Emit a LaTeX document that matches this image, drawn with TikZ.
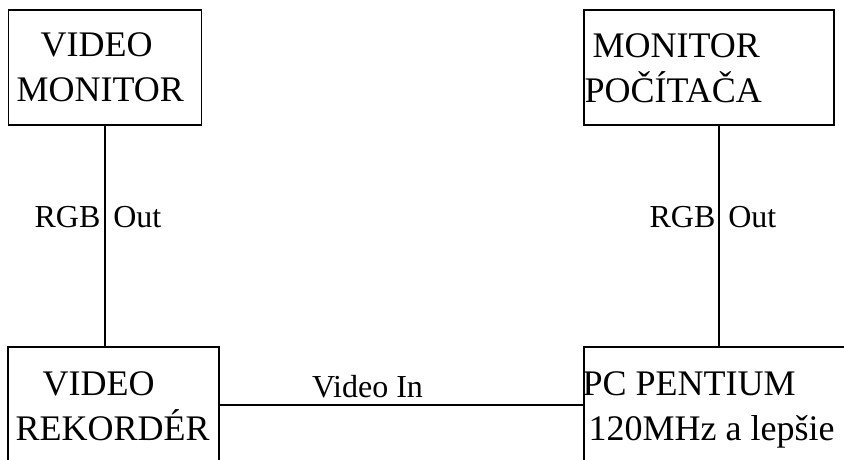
\documentclass[tikz,border=0pt]{standalone}
\usepackage{fontspec}
\setmainfont{Liberation Serif}
\begin{document}
\begin{tikzpicture}[x=1pt,y=-1pt,line width=1.3pt,
  box/.style={draw,rectangle,inner sep=0pt},
  big/.style={font=\fontsize{36}{45}\selectfont,align=left,inner sep=0pt,anchor=north west},
  small/.style={font=\fontsize{32}{38}\selectfont,inner sep=0pt}]
\useasboundingbox (0,0) rectangle (844,460);
\node[box,minimum width=193pt,minimum height=115pt] (vmon) at (105,67.5) {};
\node[box,minimum width=250pt,minimum height=115pt] (pcmon) at (709,67.5) {};
\node[box,minimum width=211pt,minimum height=116pt] (vrec) at (113.5,405) {};
\node[box,minimum width=276pt,minimum height=116pt] (pc) at (722,405) {};
\node[big] (vmontxt) at (16,32) {\hspace*{24pt}VIDEO\\MONITOR};
\node[big] (pcmontxt) at (584,33) {\hspace*{8pt}MONITOR\\POČÍTAČA};
\node[big] (vrectxt) at (15,371) {\hspace*{27pt}VIDEO\\REKORDÉR};
\node[big] (pctxt) at (582,371) {PC PENTIUM\\\hspace*{6pt}120MHz a lepšie};
\draw (vmon.south) -- (vmon.south |- vrec.north)
  node[small,midway,xshift=-7pt,anchor=base,yshift=9pt] {RGB\hspace{13pt}Out};
\draw ([xshift=10pt]pcmon.south) -- ([xshift=10pt]pcmon.south |- pc.north)
  node[small,midway,xshift=-6pt,anchor=base,yshift=9pt] {RGB\hspace{13pt}Out};
\draw (vrec.east) -- (pc.west)
  node[small,midway,xshift=-34pt,anchor=base,yshift=8pt] {Video In};
\end{tikzpicture}
\end{document}
